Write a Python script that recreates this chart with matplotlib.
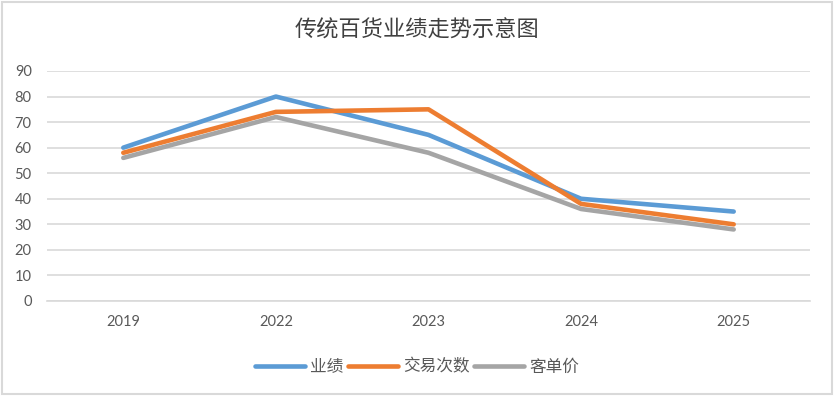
import matplotlib
matplotlib.use("Agg")
import matplotlib.pyplot as plt
from matplotlib.patches import Rectangle

plt.rcParams['font.family'] = ['Lato', 'Noto Sans CJK SC', 'DejaVu Sans']

title = "传统百货业绩走势示意图"
categories = ["2019", "2022", "2023", "2024", "2025"]
series_names = ["业绩", "交易次数", "客单价"]
yeji = [60, 80, 65, 40, 35]
jiaoyi = [58, 74, 75, 38, 30]
kedanjia = [56, 72, 58, 36, 28]
yticks = [0, 10, 20, 30, 40, 50, 60, 70, 80, 90]
colors = ["#5B9BD5", "#ED7D31", "#A5A5A5"]

fig = plt.figure(figsize=(8.34, 3.98), dpi=100)
fig.patch.set_facecolor("white")
fig.patches.append(Rectangle((1.5/834, 4/398), 830.5/834, 392.5/398, transform=fig.transFigure,
                             fill=False, edgecolor="#D9D9D9", linewidth=1.5))

ax = fig.add_axes([47/834, 1 - 301/398, (810 - 47)/834, (301 - 71)/398])
x = [i + 0.5 for i in range(len(categories))]
for vals, name, c in zip([yeji, jiaoyi, kedanjia], series_names, colors):
    ax.plot(x, vals, color=c, linewidth=3.3, solid_capstyle="round", solid_joinstyle="round", label=name)

ax.set_xlim(0, len(categories))
ax.set_ylim(0, 90)
ax.set_yticks(yticks)
ax.set_yticklabels([str(v) for v in yticks])
ax.set_xticks(x)
ax.set_xticklabels(categories)
ax.yaxis.grid(True, color="#D9D9D9", linewidth=1.2)
ax.set_axisbelow(True)
for s in ["top", "right", "left"]:
    ax.spines[s].set_visible(False)
ax.spines["bottom"].set_color("#D9D9D9")
ax.spines["bottom"].set_linewidth(1.2)
ax.tick_params(axis="both", length=0, labelsize=10.5, labelcolor="#595959")
ax.tick_params(axis="y", pad=11)
ax.tick_params(axis="x", pad=10)

fig.text(0.5, 1 - 30/398, title, ha="center", va="center", fontsize=16,
         color="#404040", family=["Noto Sans CJK SC", "DejaVu Sans"])

leg = fig.legend(loc="center", bbox_to_anchor=(0.5, 1 - 367/398), ncol=3, frameon=False,
                 prop={"family": ["Noto Sans CJK SC", "DejaVu Sans"], "size": 12},
                 handlelength=3.0, handletextpad=0.3, columnspacing=0.3)
for t in leg.get_texts():
    t.set_color("#595959")

fig.savefig("out.png", dpi=100, facecolor="white")
